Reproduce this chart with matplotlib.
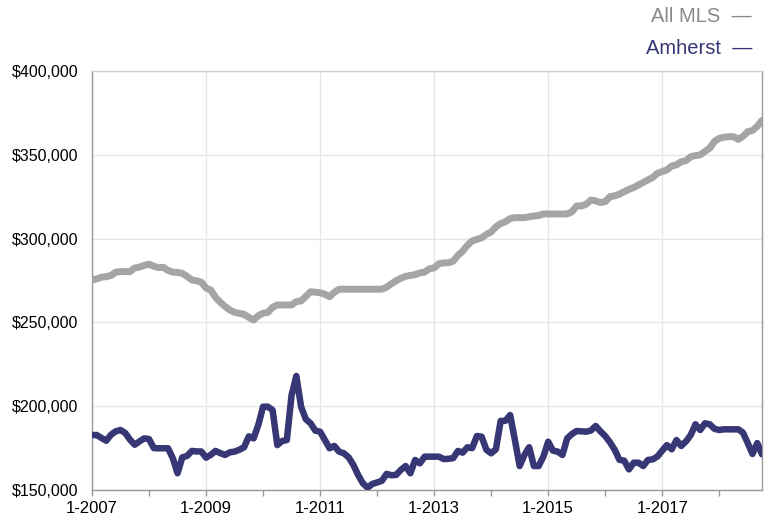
import matplotlib.pyplot as plt
import numpy as np

# monthly median prices, 1-2007 .. 10-2018 (thousands of $)
all_mls = [275.3, 276, 277, 277.3, 278, 280, 280.3, 280.3, 280.3, 282.5, 283, 284,
           284.7, 283.5, 282.7, 282.9, 281, 280, 279.8, 279.3, 277.5, 275.3, 274.8, 274,
           270.5, 269.3, 265, 262, 259.5, 257.4, 256, 255.4, 254.8, 253, 251.4, 254,
           255.5, 256, 259, 260.4, 260.4, 260.4, 260.4, 262.4, 262.8, 265.5, 268.3, 268,
           267.7, 266.8, 265.3, 268, 269.8, 269.8, 269.8, 269.8, 269.8, 269.8, 269.8, 269.8,
           269.8, 269.8, 271, 273, 274.9, 276.3, 277.5, 278, 278.5, 279.5, 280, 282,
           282.5, 285, 285.5, 285.6, 286.5, 290, 292.5, 296, 298.6, 299.5, 300.5, 302.5,
           304, 307, 309, 310, 312, 312.5, 312.5, 312.5, 313, 313.5, 313.8, 314.7,
           314.7, 314.7, 314.7, 314.7, 314.7, 316, 319.5, 319.5, 320.5, 323, 322.5, 321.5,
           322, 325, 325.5, 326.5, 328, 329.4, 330.5, 332, 333.5, 335, 336.5, 339,
           340, 341, 343.3, 344, 345.9, 346.5, 348.9, 349.5, 350, 352, 354, 358,
           359.8, 360.5, 360.8, 360.8, 359.2, 361, 363.8, 364.5, 367, 370.5]

amherst = [182.8, 182.8, 181, 179.4, 183, 185, 185.8, 184, 180, 177, 179, 180.8,
           180.4, 175, 174.9, 174.9, 174.9, 169, 160, 169.5, 170.3, 173.3, 173, 173,
           169.3, 171, 173.3, 172, 170.9, 172.5, 172.9, 174, 175.5, 182, 180.8, 188.8,
           199.7, 199.7, 197.7, 176.8, 179.2, 179.8, 206.6, 218, 199.7, 192.2, 189.8, 185.4,
           184.8, 179.8, 174.9, 176.3, 172.9, 171.9, 169.5, 165, 159, 154, 151.4, 153.6,
           154.5, 155.5, 159.6, 158.8, 159, 162, 164.3, 160, 167.9, 165.9, 169.9, 169.9,
           169.9, 169.9, 168.5, 168.6, 169, 173.3, 172.3, 175.5, 175, 182.2, 181.8, 174,
           171.9, 174.3, 191.2, 191.3, 194.7, 179.8, 164.3, 170.9, 175.5, 164.3, 164.3, 170,
           178.8, 173.5, 172.9, 170.9, 180.8, 183.4, 185.2, 185, 184.8, 185.5, 188.2, 185,
           182.2, 178.5, 174, 168, 167.5, 162.3, 166.3, 166.3, 164.3, 167.9, 168.3, 170,
           173.5, 176.8, 174.3, 179.8, 176.3, 179, 182.8, 189.2, 185.8, 189.8, 189.2, 186.5,
           185.8, 186.2, 186.2, 186.2, 186.2, 184.2, 178, 171.5, 178, 171.3]

tick_labels = ["1-2007", "1-2009", "1-2011", "1-2013", "1-2015", "1-2017"]
y_ticks = [150000, 200000, 250000, 300000, 350000, 400000]

gray = "#a5a5a5"
navy = "#373775"

plt.rcParams['font.family'] = ['Liberation Sans', 'DejaVu Sans']

months = np.arange(len(all_mls))

fig = plt.figure(figsize=(7.72, 5.18), dpi=100)
ax = fig.add_axes([92/772, 28/518, 670/772, 419/518])

ax.plot(months, np.array(all_mls)*1000, color=gray, lw=5, solid_capstyle='round', zorder=3)
ax.plot(months, np.array(amherst)*1000, color=navy, lw=4.7, solid_capstyle='round', zorder=4)

ax.set_xlim(0, len(all_mls)-1)
ax.set_ylim(150000, 400000)

ax.set_xticks(np.arange(0, 24*len(tick_labels), 24))
ax.set_xticklabels(tick_labels)
ax.set_xticks(np.arange(12, len(all_mls), 24), minor=True)
ax.set_yticks(y_ticks)
ax.set_yticklabels(["${:,}".format(v) for v in y_ticks])

ax.tick_params(axis='x', which='both', direction='out', length=4, width=1,
               color='#999999', labelsize=12, pad=4)
ax.tick_params(axis='y', length=0, labelsize=11.5, pad=10)
ax.grid(True, which='major', color='#e6e6e6', lw=1, zorder=0)

for s in ['left', 'right', 'bottom']:
    ax.spines[s].set_color('#999999')
    ax.spines[s].set_linewidth(1)
ax.spines['top'].set_color('#d0d0d0')
ax.spines['top'].set_linewidth(1)

fig.text(752/772, 1-17/518, "All MLS  \u2014", color='#8a8a8a', fontsize=14.5,
         ha='right', va='center')
fig.text(752/772, 1-49/518, "Amherst  \u2014", color=navy, fontsize=14.5,
         ha='right', va='center')

fig.savefig("out.png", dpi=100)
